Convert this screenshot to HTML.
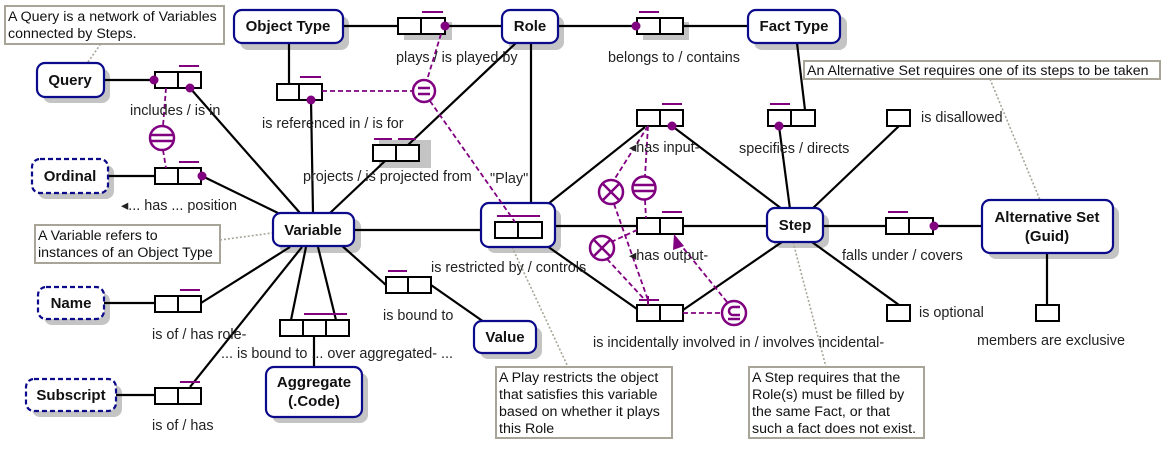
<!DOCTYPE html>
<html><head><meta charset="utf-8"><style>
html,body{margin:0;padding:0;background:#fff;}
svg{display:block;font-family:"Liberation Sans",sans-serif;}
.t{font-size:14.4px;fill:#222;}
.b{font-size:15px;font-weight:bold;fill:#111;text-anchor:middle;}
.n{font-size:14.2px;fill:#111;}
</style></head><body>
<svg width="1167" height="449" viewBox="0 0 1167 449" xmlns="http://www.w3.org/2000/svg">
<g fill="#c4c4c4">
<rect x="240" y="16" width="109" height="34" rx="8"/>
<rect x="508" y="16" width="56" height="34" rx="8"/>
<rect x="754" y="16" width="93" height="34" rx="8"/>
<rect x="43" y="69" width="67" height="34" rx="8"/>
<rect x="38" y="165" width="76" height="34" rx="8"/>
<rect x="279" y="219" width="82" height="34" rx="8"/>
<rect x="44" y="293" width="66" height="32" rx="8"/>
<rect x="32" y="385" width="90" height="32" rx="8"/>
<rect x="272" y="373" width="96" height="50" rx="8"/>
<rect x="480" y="327" width="62" height="32" rx="8"/>
<rect x="773" y="214" width="56" height="34" rx="8"/>
<rect x="988" y="206" width="131" height="53" rx="8"/>
<rect x="487" y="209" width="74" height="44" rx="8"/>
<rect x="404" y="22" width="48" height="18"/>
<rect x="643" y="22" width="46" height="18"/>
<rect x="379" y="140" width="52" height="28"/>
</g>
<g stroke="#000" stroke-width="2.2" fill="none">
<line x1="343" y1="26" x2="398" y2="26"/><line x1="445" y1="26" x2="502" y2="26"/>
<line x1="558" y1="26" x2="637" y2="26"/><line x1="683" y1="26" x2="748" y2="26"/>
<line x1="104" y1="80" x2="154" y2="80"/><line x1="190" y1="88" x2="300" y2="213"/>
<line x1="289" y1="43" x2="289" y2="83"/><line x1="311" y1="100" x2="313" y2="213"/>
<line x1="108" y1="176" x2="155" y2="176"/><line x1="202" y1="176" x2="278" y2="213"/>
<line x1="330" y1="213" x2="385" y2="161"/><line x1="408" y1="145" x2="517" y2="42"/>
<line x1="531" y1="42" x2="531" y2="222"/>
<line x1="354" y1="230" x2="495" y2="230"/>
<line x1="104" y1="303" x2="155" y2="303"/><line x1="201" y1="303" x2="290" y2="247"/>
<line x1="116" y1="395" x2="155" y2="395"/><line x1="190" y1="387" x2="302" y2="247"/>
<line x1="291" y1="320" x2="306" y2="247"/><line x1="336" y1="320" x2="318" y2="247"/>
<line x1="314" y1="336" x2="314" y2="367"/>
<line x1="340" y1="244" x2="386" y2="285"/><line x1="431" y1="285" x2="484" y2="322"/>
<line x1="548" y1="204" x2="645" y2="127"/><line x1="672" y1="126" x2="782" y2="209"/>
<line x1="555" y1="226" x2="637" y2="226"/><line x1="683" y1="226" x2="767" y2="226"/>
<line x1="547" y1="246" x2="637" y2="309"/><line x1="683" y1="310" x2="782" y2="242"/>
<line x1="797" y1="43" x2="805" y2="110"/><line x1="779" y1="126" x2="790" y2="209"/>
<line x1="899" y1="126" x2="812" y2="209"/>
<line x1="823" y1="226" x2="886" y2="226"/><line x1="935" y1="226" x2="982" y2="226"/>
<line x1="812" y1="242" x2="899" y2="305"/>
<line x1="1047" y1="253" x2="1047" y2="305"/>
</g>
<g stroke="#a8a498" stroke-width="1.6" stroke-dasharray="2,2" fill="none">
<line x1="88" y1="62" x2="100" y2="45"/>
<line x1="220" y1="240" x2="272" y2="233"/>
<line x1="512" y1="247" x2="568" y2="367"/>
<line x1="793" y1="242" x2="826" y2="367"/>
<line x1="990" y1="79" x2="1040" y2="200"/>
</g>
<g fill="#fff" stroke="#0a0a8a" stroke-width="2.2">
<rect x="234" y="10" width="109" height="33" rx="8"/>
<rect x="502" y="10" width="56" height="33" rx="8"/>
<rect x="748" y="10" width="92" height="33" rx="8"/>
<rect x="37" y="63" width="67" height="34" rx="8"/>
<rect x="273" y="213" width="81" height="33" rx="8"/>
<rect x="266" y="367" width="96" height="50" rx="8"/>
<rect x="474" y="321" width="62" height="32" rx="8"/>
<rect x="767" y="208" width="56" height="34" rx="8"/>
<rect x="982" y="200" width="131" height="53" rx="8"/>
<rect x="481" y="203" width="74" height="44" rx="8"/>
</g>
<g fill="#fff" stroke="#0a0a8a" stroke-width="2.2" stroke-dasharray="5,3">
<rect x="32" y="159" width="76" height="34" rx="8"/>
<rect x="38" y="287" width="66" height="32" rx="8"/>
<rect x="26" y="379" width="90" height="32" rx="8"/>
</g>
<g class="b">
<text x="288" y="31">Object Type</text>
<text x="530" y="31">Role</text>
<text x="794" y="31">Fact Type</text>
<text x="70" y="85">Query</text>
<text x="70" y="181">Ordinal</text>
<text x="313" y="235">Variable</text>
<text x="71" y="308">Name</text>
<text x="71" y="400">Subscript</text>
<text x="314" y="387">Aggregate</text><text x="314" y="406">(.Code)</text>
<text x="505" y="342">Value</text>
<text x="795" y="230">Step</text>
<text x="1047" y="222">Alternative Set</text><text x="1047" y="241">(Guid)</text>
</g>
<g fill="#fff" stroke="#000" stroke-width="2">
<rect x="398" y="18" width="47" height="16"/><line x1="421" y1="18" x2="421" y2="34"/>
<rect x="637" y="18" width="46" height="16"/><line x1="660" y1="18" x2="660" y2="34"/>
<rect x="155" y="72" width="46" height="16"/><line x1="178" y1="72" x2="178" y2="88"/>
<rect x="277" y="84" width="45" height="16"/><line x1="299" y1="84" x2="299" y2="100"/>
<rect x="373" y="145" width="46" height="16"/><line x1="396" y1="145" x2="396" y2="161"/>
<rect x="155" y="168" width="46" height="16"/><line x1="178" y1="168" x2="178" y2="184"/>
<rect x="495" y="222" width="47" height="16"/><line x1="518" y1="222" x2="518" y2="238"/>
<rect x="637" y="110" width="46" height="16"/><line x1="660" y1="110" x2="660" y2="126"/>
<rect x="768" y="110" width="47" height="16"/><line x1="791" y1="110" x2="791" y2="126"/>
<rect x="887" y="110" width="23" height="16"/>
<rect x="637" y="218" width="46" height="16"/><line x1="660" y1="218" x2="660" y2="234"/>
<rect x="886" y="218" width="47" height="16"/><line x1="909" y1="218" x2="909" y2="234"/>
<rect x="637" y="305" width="46" height="16"/><line x1="660" y1="305" x2="660" y2="321"/>
<rect x="887" y="305" width="23" height="16"/>
<rect x="1036" y="305" width="23" height="16"/>
<rect x="155" y="296" width="46" height="16"/><line x1="178" y1="296" x2="178" y2="312"/>
<rect x="386" y="277" width="45" height="16"/><line x1="408" y1="277" x2="408" y2="293"/>
<rect x="280" y="320" width="69" height="16"/><line x1="303" y1="320" x2="303" y2="336"/><line x1="326" y1="320" x2="326" y2="336"/>
<rect x="155" y="388" width="46" height="16"/><line x1="178" y1="388" x2="178" y2="404"/>
</g>
<g stroke="#800080" stroke-width="2">
<line x1="422" y1="12" x2="443" y2="12"/>
<line x1="639" y1="12" x2="659" y2="12"/>
<line x1="179" y1="66" x2="199" y2="66"/>
<line x1="300" y1="77" x2="321" y2="77"/>
<line x1="374" y1="139" x2="392" y2="139"/><line x1="398" y1="139" x2="416" y2="139"/>
<line x1="179" y1="162" x2="199" y2="162"/>
<line x1="497" y1="216" x2="540" y2="216"/>
<line x1="662" y1="104" x2="682" y2="104"/>
<line x1="770" y1="104" x2="790" y2="104"/>
<line x1="662" y1="212" x2="682" y2="212"/>
<line x1="888" y1="212" x2="908" y2="212"/>
<line x1="639" y1="300" x2="659" y2="300"/>
<line x1="180" y1="290" x2="200" y2="290"/>
<line x1="388" y1="271" x2="407" y2="271"/>
<line x1="304" y1="314" x2="347" y2="314"/>
<line x1="180" y1="382" x2="200" y2="382"/>
</g>
<g stroke="#800080" stroke-width="1.8" stroke-dasharray="5,3" fill="none">
<line x1="441" y1="34" x2="427" y2="80"/>
<line x1="322" y1="91" x2="413" y2="91"/>
<line x1="430" y1="101" x2="515" y2="222"/>
<line x1="166" y1="88" x2="163" y2="126"/><line x1="163" y1="150" x2="166" y2="168"/>
<line x1="648" y1="126" x2="614" y2="180"/>
<line x1="648" y1="126" x2="645" y2="176"/>
<line x1="645" y1="200" x2="646" y2="218"/>
<line x1="614" y1="204" x2="648" y2="300"/>
<line x1="611" y1="242" x2="637" y2="230"/>
<line x1="607" y1="259" x2="645" y2="300"/>
<line x1="683" y1="313" x2="722" y2="313"/>
<line x1="727" y1="302" x2="680" y2="244"/>
</g>
<path d="M674 234 L684 246 L673 250 Z" fill="#800080"/>
<line x1="648" y1="296" x2="648" y2="305" stroke="#800080" stroke-width="2"/>
<g fill="#800080">
<circle cx="445" cy="26" r="4.5"/><circle cx="636" cy="26" r="4.5"/>
<circle cx="154" cy="80" r="4.5"/><circle cx="190" cy="88" r="4.5"/>
<circle cx="311" cy="100" r="4.5"/><circle cx="202" cy="176" r="4.5"/>
<circle cx="672" cy="126" r="4.5"/><circle cx="779" cy="126" r="4.5"/>
<circle cx="934" cy="226" r="4.5"/>
</g>
<g stroke="#800080" stroke-width="2.5" fill="#fff">
<circle cx="424" cy="91" r="11"/>
<circle cx="162" cy="138" r="12"/>
<circle cx="611" cy="192" r="12"/>
<circle cx="644" cy="188" r="11.5"/>
<circle cx="602" cy="248" r="12"/>
<circle cx="734" cy="313" r="12"/>
</g>
<g stroke="#800080" stroke-width="2.5" fill="none">
<line x1="418" y1="88" x2="430" y2="88"/><line x1="418" y1="94" x2="430" y2="94"/>
<line x1="151" y1="135" x2="173" y2="135"/><line x1="151" y1="141" x2="173" y2="141"/>
<line x1="633" y1="185" x2="655" y2="185"/><line x1="633" y1="191" x2="655" y2="191"/>
<line x1="603" y1="184" x2="619" y2="200"/><line x1="619" y1="184" x2="603" y2="200"/>
<line x1="594" y1="240" x2="610" y2="256"/><line x1="610" y1="240" x2="594" y2="256"/>
<path d="M740 307 H733 A4 4 0 0 0 733 315 H740 M728 319 H740"/>
</g>
<g fill="#fff" stroke="#a8a498" stroke-width="2">
<rect x="5" y="6" width="219" height="38"/>
<rect x="35" y="225" width="185" height="38"/>
<rect x="496" y="367" width="176" height="71"/>
<rect x="749" y="367" width="175" height="71"/>
<rect x="804" y="61" width="356" height="18"/>
</g>
<g class="n">
<text x="8" y="21">A Query is a network of Variables</text>
<text x="8" y="38">connected by Steps.</text>
<text x="38" y="240">A Variable refers to</text>
<text x="38" y="257">instances of an Object Type</text>
<text x="499" y="382">A Play restricts the object</text>
<text x="499" y="399">that satisfies this variable</text>
<text x="499" y="416">based on whether it plays</text>
<text x="499" y="433">this Role</text>
<text x="752" y="382">A Step requires that the</text>
<text x="752" y="399">Role(s) must be filled by</text>
<text x="752" y="416">the same Fact, or that</text>
<text x="752" y="433">such a fact does not exist.</text>
<text x="807" y="75">An Alternative Set requires one of its steps to be taken</text>
</g>
<g class="t">
<text x="396" y="62">plays / is played by</text>
<text x="608" y="62">belongs to / contains</text>
<text x="130" y="115">includes / is in</text>
<text x="262" y="128">is referenced in / is for</text>
<text x="303" y="181">projects / is projected from</text>
<text x="490" y="183">"Play"</text>
<text x="629" y="152">◂has input-</text>
<text x="739" y="153">specifies / directs</text>
<text x="921" y="122">is disallowed</text>
<text x="121" y="210">◂... has ... position</text>
<text x="431" y="272">is restricted by / controls</text>
<text x="629" y="260">◂has output-</text>
<text x="842" y="260">falls under / covers</text>
<text x="919" y="317">is optional</text>
<text x="977" y="345">members are exclusive</text>
<text x="593" y="347">is incidentally involved in / involves incidental-</text>
<text x="152" y="339">is of / has role-</text>
<text x="221" y="358">... is bound to ... over aggregated- ...</text>
<text x="383" y="320">is bound to</text>
<text x="152" y="430">is of / has</text>
</g>
</svg>
</body></html>
